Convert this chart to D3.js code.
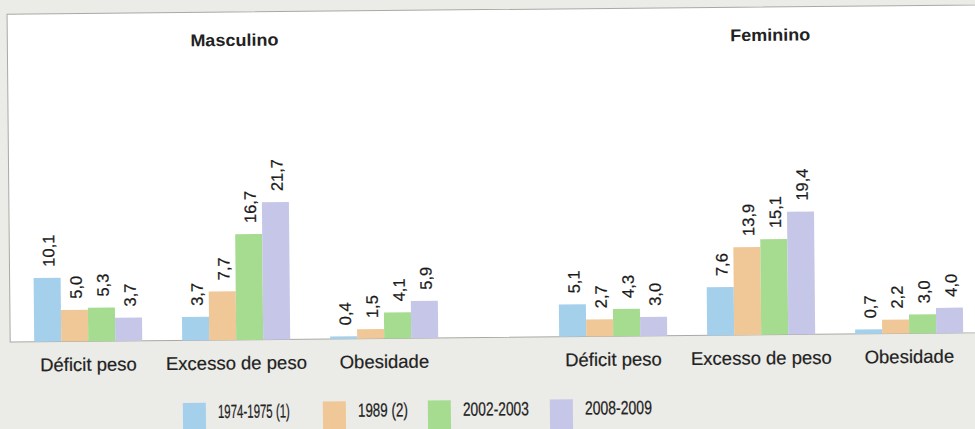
<!DOCTYPE html>
<html lang="pt">
<head>
<meta charset="utf-8">
<script src="https://cdn.jsdelivr.net/npm/d3@7"></script>
<style>
  html, body { margin: 0; padding: 0; background: #ebebe7; }
  svg { display: block; }
  text { font-family: "Liberation Sans", Arial, Helvetica, sans-serif; }
</style>
</head>
<body>
<svg id="chart" width="975" height="429"></svg>
<script>
// Estado nutricional da população adulta, por sexo (%)
const sexes = ["Masculino", "Feminino"];
const categories = ["Déficit peso", "Excesso de peso", "Obesidade"];
const years = ["1974-1975 (1)", "1989 (2)", "2002-2003", "2008-2009"];

// One row per survey year, one value per category
const masculino = [
  [10.1, 3.7, 0.4],
  [5.0, 7.7, 1.5],
  [5.3, 16.7, 4.1],
  [3.7, 21.7, 5.9]
];
const feminino = [
  [5.1, 7.6, 0.7],
  [2.7, 13.9, 2.2],
  [4.3, 15.1, 3.0],
  [3.0, 19.4, 4.0]
];

const colors = ["#a4d0ec", "#f0c898", "#a6dc90", "#c6c6e8"];

// Layout
const W = 975, H = 429;
const baseline = 337.5;
const panelTop = 9.6;
const panelLeft = 9;
const tilt = -0.55;

const svg = d3.select("#chart");
svg.append("rect").attr("width", W).attr("height", H).attr("fill", "#ebebe7");

const root = svg.append("g").attr("transform", `rotate(${tilt}, 487, 214)`);

// White plotting panel with its left, top and bottom rules
root.append("rect")
  .attr("x", panelLeft).attr("y", panelTop)
  .attr("width", 1100).attr("height", baseline - panelTop)
  .attr("fill", "#ffffff");
root.append("path")
  .attr("d", `M1100,${panelTop}H${panelLeft}V${baseline}H1100`)
  .attr("fill", "none").attr("stroke", "#a9a9a6").attr("stroke-width", 1);

// Scales
const xSex = d3.scaleBand().domain(sexes).range([33, 33 + 525 * 2]);
const xCat = d3.scaleBand().domain(categories).range([0, 404]).paddingInner(0.27);
const xYear = d3.scaleBand().domain(years).range([0, xCat.bandwidth()]);
const y = d3.scaleLinear().domain([0, 25]).range([baseline, baseline - 25 * 6.33]);

const seriesBySex = { Masculino: masculino, Feminino: feminino };
const titleNudge = { Masculino: 1, Feminino: 12 };
const titleWidth = { Masculino: 88, Feminino: 80 };

sexes.forEach(sex => {
  const g = root.append("g").attr("transform", `translate(${xSex(sex)},0)`);
  const rows = seriesBySex[sex];

  g.append("text")
    .attr("x", 202 + titleNudge[sex])
    .attr("y", 43.5)
    .attr("text-anchor", "middle")
    .attr("font-size", 17)
    .attr("font-weight", "bold")
    .attr("fill", "#222")
    .attr("textLength", titleWidth[sex])
    .attr("lengthAdjust", "spacingAndGlyphs")
    .text(sex);

  categories.forEach((cat, ci) => {
    const cg = g.append("g").attr("transform", `translate(${xCat(cat)},0)`);
    const items = years.map((yr, yi) => ({ yr, yi, v: rows[yi][ci] }));

    cg.selectAll("rect")
      .data(items)
      .join("rect")
      .attr("x", d => xYear(d.yr))
      .attr("y", d => y(d.v))
      .attr("width", xYear.bandwidth())
      .attr("height", d => baseline - y(d.v))
      .attr("fill", d => colors[d.yi]);

    cg.selectAll("text.val")
      .data(items)
      .join("text")
      .attr("class", "val")
      .attr("transform", d => `translate(${xYear(d.yr) + xYear.bandwidth() / 2 + 1.5},${y(d.v) - 11}) rotate(-90)`)
      .attr("dy", "0.36em")
      .attr("font-size", 16.5)
      .attr("fill", "#1a1a1a")
      .attr("stroke", "#1a1a1a")
      .attr("stroke-width", 0.25)
      .text(d => d3.format(".1f")(d.v).replace(".", ","));

    cg.append("text")
      .attr("x", xCat.bandwidth() / 2)
      .attr("y", 367)
      .attr("text-anchor", "middle")
      .attr("font-size", 18.5)
      .attr("fill", "#222")
      .attr("stroke", "#222")
      .attr("stroke-width", 0.2)
      .text(cat);
  });
});

// Legend
const legendX = [181, 321, 426, 548];
const legendTextW = [72, 50, 66, 67];
const legend = root.append("g");
years.forEach((yr, i) => {
  const lg = legend.append("g").attr("transform", `translate(${legendX[i]},0)`);
  lg.append("rect")
    .attr("x", 0).attr("y", 400)
    .attr("width", 23).attr("height", 40)
    .attr("fill", colors[i]);
  lg.append("text")
    .attr("x", 35).attr("y", 415.5)
    .attr("font-size", 19)
    .attr("fill", "#222")
    .attr("stroke", "#222")
    .attr("stroke-width", 0.25)
    .attr("textLength", legendTextW[i])
    .attr("lengthAdjust", "spacingAndGlyphs")
    .text(yr);
});
</script>
</body>
</html>
